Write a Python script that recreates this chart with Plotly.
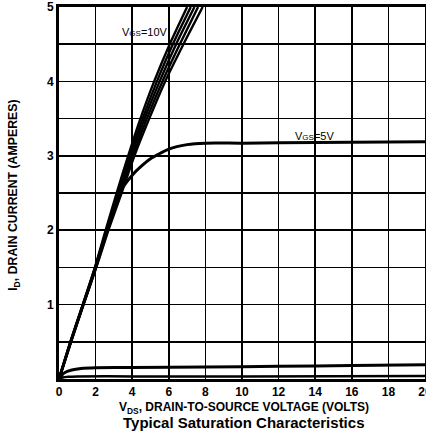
import plotly.graph_objects as go

# ---- data ----
# Drain current levels (A) at which the VGS=10V bundle lines were read
i_levels = [0, 0.5, 1.0, 1.5, 2.0, 2.5, 3.0, 3.5, 4.0, 4.5, 5.0]
# Drain-source voltage (V) of each VGS=10V line at those current levels
vgs10_line1 = [0, 0.62, 1.30, 1.96, 2.55, 3.15, 3.78, 4.45, 5.20, 6.05, 7.00]
vgs10_line2 = [0, 0.63, 1.31, 1.98, 2.59, 3.22, 3.87, 4.57, 5.35, 6.22, 7.20]
vgs10_line3 = [0, 0.64, 1.32, 2.00, 2.62, 3.28, 3.95, 4.68, 5.50, 6.40, 7.40]
vgs10_line4 = [0, 0.65, 1.33, 2.02, 2.66, 3.35, 4.04, 4.80, 5.65, 6.60, 7.60]
vgs10_line5 = [0, 0.66, 1.34, 2.04, 2.70, 3.42, 4.12, 4.93, 5.80, 6.80, 7.85]

# VGS = 5V curve
vgs5_v = [0, 0.64, 1.32, 2.0, 2.62, 3.1, 3.5, 4.0, 4.5, 5.0, 6.0, 7.0, 8.0, 10, 14, 20]
vgs5_i = [0, 0.5, 1.0, 1.5, 2.0, 2.38, 2.58, 2.74, 2.86, 2.96, 3.09, 3.15, 3.17, 3.17, 3.18, 3.19]

# low-gate-voltage curves near the bottom
low_a_v = [0, 0.15, 0.35, 0.7, 1.2, 2, 4, 8, 12, 16, 20]
low_a_i = [0, 0.05, 0.09, 0.12, 0.14, 0.15, 0.155, 0.16, 0.17, 0.18, 0.19]
low_b_v = [0, 0.2, 0.5, 1, 4, 10, 20]
low_b_i = [0, 0.02, 0.03, 0.035, 0.035, 0.035, 0.04]

# axis ticks
x_tickvals = [0, 2, 4, 6, 8, 10, 12, 14, 16, 18, 20]
x_ticktext = ["0", "2", "4", "6", "8", "10", "12", "14", "16", "18", "20"]
y_tickvals = [0.5, 1, 1.5, 2, 2.5, 3, 3.5, 4, 4.5, 5]
y_ticktext = [" ", "1", " ", "2", " ", "3", " ", "4", " ", "5"]

FONT = "Liberation Sans, Arial, sans-serif"

fig = go.Figure()

for xs in [vgs10_line1, vgs10_line2, vgs10_line3, vgs10_line4, vgs10_line5]:
    fig.add_trace(go.Scatter(x=xs, y=i_levels, mode="lines",
                             line=dict(color="black", width=2.4, shape="spline", smoothing=0.6),
                             hoverinfo="skip"))

fig.add_trace(go.Scatter(x=vgs5_v, y=vgs5_i, mode="lines",
                         line=dict(color="black", width=3, shape="spline", smoothing=0.6),
                         hoverinfo="skip"))
fig.add_trace(go.Scatter(x=low_a_v, y=low_a_i, mode="lines",
                         line=dict(color="black", width=3, shape="spline", smoothing=0.6),
                         hoverinfo="skip"))
fig.add_trace(go.Scatter(x=low_b_v, y=low_b_i, mode="lines",
                         line=dict(color="black", width=2.5, shape="spline", smoothing=0.6),
                         hoverinfo="skip"))

fig.update_layout(
    width=426, height=431,
    margin=dict(l=59, r=1, t=7, b=52),
    paper_bgcolor="white", plot_bgcolor="white",
    showlegend=False,
    font=dict(family=FONT, color="black"),
)

fig.update_xaxes(
    range=[0, 20], tickvals=x_tickvals, ticktext=x_ticktext,
    showgrid=True, gridcolor="black", gridwidth=1.5,
    showline=True, linecolor="black", linewidth=3, mirror=True,
    zeroline=False, ticks="", automargin=False, ticklabeloverflow="allow",
    tickfont=dict(family=FONT, size=12, weight="bold", color="black"),
)
fig.update_yaxes(
    range=[0, 5], tickvals=y_tickvals, ticktext=y_ticktext,
    showgrid=True, gridcolor="black", gridwidth=1.5,
    showline=True, linecolor="black", linewidth=3, mirror=True,
    zeroline=False, ticks="", automargin=False, ticklabeloverflow="allow",
    tickfont=dict(family=FONT, size=12, weight="bold", color="black"),
)

annos = [
    dict(x=4.7, y=4.66, xref="x", yref="y",
         text="V<span style='font-size:8px'>GS</span>=10V",
         font=dict(family=FONT, size=11, color="black")),
    dict(x=13.95, y=3.27, xref="x", yref="y",
         text="V<span style='font-size:8px'>GS</span>=5V",
         font=dict(family=FONT, size=11, color="black")),
    dict(x=0.505, y=-0.078, xref="paper", yref="paper",
         text="V<sub>DS</sub>, DRAIN-TO-SOURCE VOLTAGE (VOLTS)",
         font=dict(family=FONT, size=12, weight="bold", color="black")),
    dict(x=0.505, y=-0.1175, xref="paper", yref="paper",
         text="Typical Saturation Characteristics",
         font=dict(family=FONT, size=15, weight="bold", color="black")),
    dict(x=-0.123, y=0.495, xref="paper", yref="paper", textangle=-90,
         text="I<sub>D</sub>, DRAIN CURRENT (AMPERES)",
         font=dict(family=FONT, size=12.3, weight="bold", color="black")),
]
for a in annos:
    fig.add_annotation(showarrow=False, xanchor="center", yanchor="middle", **a)

fig.write_html("out.html",
               config={"displayModeBar": False, "staticPlot": True},
               post_script="document.body.style.margin='0';document.body.style.overflow='hidden';")
